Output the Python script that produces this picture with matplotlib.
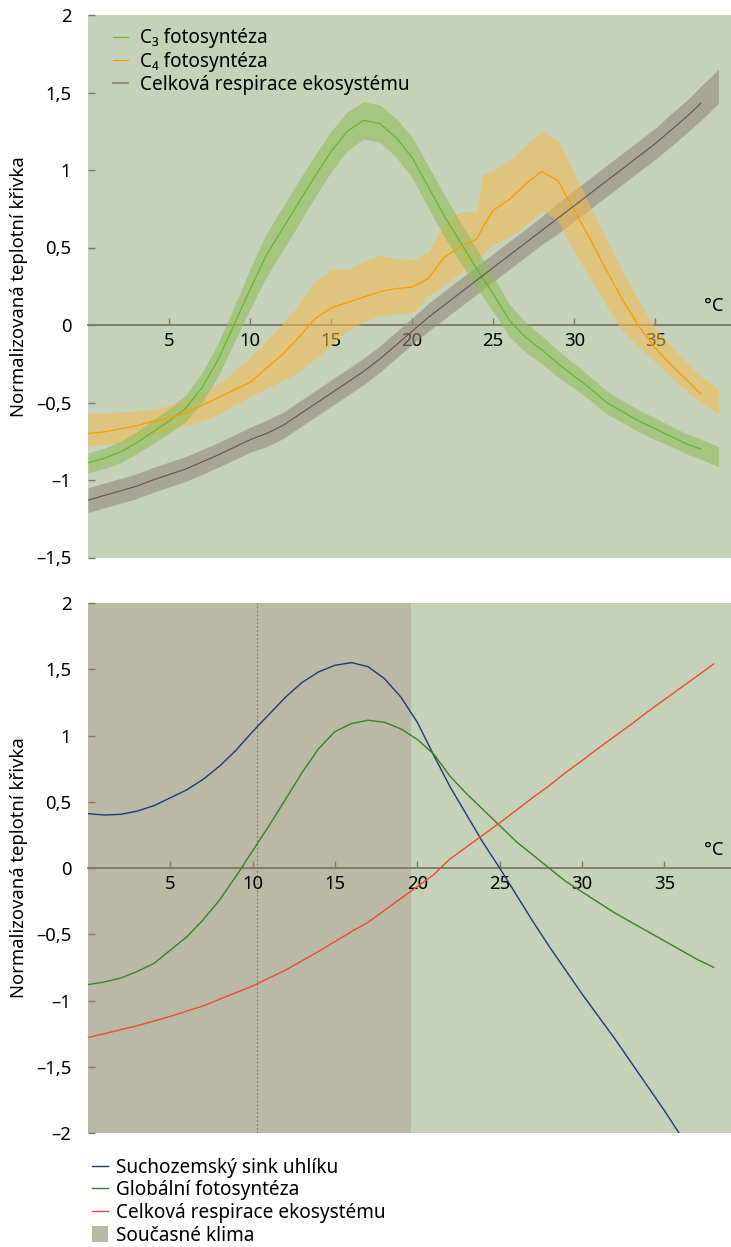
import numpy as np
import matplotlib
matplotlib.use("Agg")
import matplotlib.pyplot as plt
from matplotlib.patches import Patch
from matplotlib.lines import Line2D

plt.rcParams['font.family'] = ['Noto Sans', 'DejaVu Sans']

# =========================
# Data
# =========================

# top panel: common grid, last point = end of the uncertainty band
x_top = list(range(0, 38)) + [37.8, 38.9]

c3_mid = [-0.89, -0.86, -0.82, -0.76, -0.69, -0.62, -0.54, -0.41, -0.23, 0.0,
          0.23, 0.45, 0.62, 0.79, 0.96, 1.12, 1.25, 1.32, 1.30, 1.21,
          1.08, 0.89, 0.70, 0.53, 0.36, 0.20, 0.03, -0.08, -0.16, -0.25,
          -0.33, -0.41, -0.50, -0.56, -0.62, -0.67, -0.72, -0.77, -0.80, -0.85]
c3_hw = [0.065, 0.065, 0.07, 0.07, 0.075, 0.08, 0.085, 0.095, 0.105, 0.115,
         0.13, 0.14, 0.14, 0.14, 0.135, 0.13, 0.125, 0.12, 0.12, 0.125,
         0.13, 0.135, 0.135, 0.13, 0.125, 0.115, 0.105, 0.095, 0.09, 0.085,
         0.08, 0.075, 0.075, 0.07, 0.07, 0.07, 0.065, 0.065, 0.065, 0.065]

resp_mid = [-1.13, -1.10, -1.07, -1.04, -1.00, -0.965, -0.93, -0.885, -0.84, -0.79,
            -0.74, -0.70, -0.65, -0.58, -0.51, -0.44, -0.37, -0.30, -0.22, -0.13,
            -0.04, 0.05, 0.13, 0.21, 0.29, 0.37, 0.45, 0.53, 0.61, 0.69,
            0.77, 0.85, 0.93, 1.01, 1.09, 1.17, 1.26, 1.35, 1.43, 1.54]
resp_hw = [0.08] * 11 + [0.085] * 10 + [0.09] * 8 + [0.10] * 7 + [0.105, 0.105, 0.11, 0.11]

x_c4 = list(range(0, 25)) + [24.3] + list(range(25, 38)) + [37.8, 38.9]
c4_mid = [-0.70, -0.69, -0.67, -0.65, -0.62, -0.60, -0.57, -0.52, -0.47, -0.42,
          -0.37, -0.28, -0.19, -0.08, 0.04, 0.11, 0.145, 0.18, 0.215, 0.235,
          0.245, 0.30, 0.44, 0.505, 0.555, 0.62,
          0.74, 0.81, 0.91, 0.99, 0.93, 0.74, 0.55, 0.35, 0.16, -0.01,
          -0.15, -0.26, -0.36, -0.445, -0.50]
c4_hi = [-0.57, -0.565, -0.56, -0.555, -0.545, -0.52, -0.49, -0.45, -0.38, -0.30,
         -0.21, -0.10, 0.01, 0.13, 0.28, 0.36, 0.355, 0.41, 0.45, 0.43,
         0.42, 0.47, 0.67, 0.73, 0.73, 0.97,
         1.00, 1.06, 1.16, 1.25, 1.19, 0.98, 0.76, 0.55, 0.34, 0.15,
         -0.02, -0.14, -0.25, -0.33, -0.41]
c4_lo = [-0.78, -0.77, -0.76, -0.74, -0.71, -0.68, -0.65, -0.62, -0.58, -0.52,
         -0.46, -0.41, -0.36, -0.30, -0.22, -0.13, -0.04, 0.02, 0.06, 0.07,
         0.08, 0.19, 0.26, 0.34, 0.42, 0.45,
         0.52, 0.57, 0.64, 0.74, 0.67, 0.47, 0.30, 0.12, -0.04, -0.14,
         -0.24, -0.34, -0.43, -0.50, -0.57]

# bottom panel
x_bot = list(range(0, 39))
sink = [0.41, 0.40, 0.405, 0.43, 0.47, 0.53, 0.59, 0.67, 0.77, 0.89,
        1.03, 1.16, 1.29, 1.40, 1.48, 1.53, 1.55, 1.52, 1.43, 1.29,
        1.10, 0.85, 0.61, 0.40, 0.19, 0.0, -0.20, -0.40, -0.59, -0.77,
        -0.95, -1.12, -1.29, -1.47, -1.65, -1.83, -2.02]
photo = [-0.88, -0.86, -0.83, -0.78, -0.72, -0.62, -0.52, -0.39, -0.24, -0.06,
         0.13, 0.32, 0.52, 0.72, 0.90, 1.03, 1.09, 1.115, 1.10, 1.05,
         0.97, 0.86, 0.69, 0.56, 0.44, 0.32, 0.20, 0.10, 0.0, -0.10,
         -0.18, -0.26, -0.34, -0.41, -0.48, -0.55, -0.62, -0.69, -0.75]
resp_bot = [-1.28, -1.25, -1.22, -1.19, -1.155, -1.12, -1.08, -1.04, -0.99, -0.94,
            -0.89, -0.83, -0.77, -0.70, -0.63, -0.555, -0.48, -0.41, -0.32, -0.23,
            -0.14, -0.05, 0.07, 0.16, 0.25, 0.34, 0.435, 0.53, 0.62, 0.72,
            0.81, 0.905, 0.995, 1.085, 1.18, 1.27, 1.36, 1.45, 1.54]
climate_end = 19.6
climate_mean = 10.25

xticks = [5, 10, 15, 20, 25, 30, 35]
yticks_top = [2, 1.5, 1, 0.5, 0, -0.5, -1, -1.5]
yticks_bot = [2, 1.5, 1, 0.5, 0, -0.5, -1, -1.5, -2]

# =========================
# Style
# =========================
bg = '#c5d1b9'
climate_col = '#b9b9a6'
axis_col = '#7f7767'
fs = 13.3
leg_fs = 13.7


def fmt(v):
    s = f"{abs(v):g}".replace('.', ',')
    return ('\u2013' + s) if v < 0 else s


def style_axes(ax, yt, ylim, xmax):
    ax.set_facecolor(bg)
    ax.set_xlim(0, xmax)
    ax.set_ylim(*ylim)
    for s in ['top', 'right', 'left']:
        ax.spines[s].set_visible(False)
    ax.spines['bottom'].set_position(('data', 0))
    ax.spines['bottom'].set_color(axis_col)
    ax.spines['bottom'].set_linewidth(1.3)
    ax.spines['bottom'].set_zorder(1)
    ax.set_xticks(xticks)
    ax.set_xticklabels([str(t) for t in xticks])
    ax.set_yticks(yt)
    ax.set_yticklabels([fmt(v) for v in yt])
    ax.tick_params(axis='x', direction='in', length=5, width=1, color=axis_col,
                   labelsize=fs, pad=5)
    ax.tick_params(axis='y', direction='in', length=5, width=1, color=axis_col,
                   labelsize=fs, pad=12)
    ax.set_ylabel('Normalizovaná teplotní křivka', fontsize=fs, labelpad=6)


fig = plt.figure(figsize=(7.31, 12.47), dpi=100)

# =========================
# Top panel
# =========================
ax1 = fig.add_axes([88 / 731, 1 - 557.5 / 1247, 643 / 731, 542.5 / 1247])
style_axes(ax1, yticks_top, (-1.5, 2), 39.67)

xt = np.array(x_top)
c3m, c3h = np.array(c3_mid), np.array(c3_hw)
rm, rh = np.array(resp_mid), np.array(resp_hw)

ax1.fill_between(xt, rm - rh, rm + rh, color='#948a7c', alpha=0.6, lw=0, zorder=2)
ax1.fill_between(x_c4, c4_lo, c4_hi, color='#f5bb4f', alpha=0.55, lw=0, zorder=2)
ax1.fill_between(xt, c3m - c3h, c3m + c3h, color='#91bd5b', alpha=0.6, lw=0, zorder=2)

l_c3, = ax1.plot(xt[:-1], c3m[:-1], color='#6cb52d', lw=0.9, zorder=3)
l_c4, = ax1.plot(x_c4[:-1], c4_mid[:-1], color='#f5a000', lw=0.9, zorder=3)
l_r, = ax1.plot(xt[:-1], rm[:-1], color='#5d5550', lw=0.8, zorder=3)

ax1.text(38.6, 0.065, '°C', fontsize=fs, ha='center', va='bottom')

leg1 = ax1.legend([l_c3, l_c4, Line2D([], [], color='#8a8070', lw=1.2)],
                  ['C\u2083 fotosyntéza', 'C\u2084 fotosyntéza', 'Celková respirace ekosystému'],
                  loc='upper left', bbox_to_anchor=(0.018, 1.0), frameon=False,
                  fontsize=leg_fs, handlelength=0.8, handletextpad=0.65,
                  labelspacing=0.17, borderaxespad=0.3)

# =========================
# Bottom panel
# =========================
ax2 = fig.add_axes([88 / 731, 1 - 1133 / 1247, 643 / 731, 530 / 1247])
style_axes(ax2, yticks_bot, (-2, 2), 39.05)

ax2.axvspan(0, climate_end, color=climate_col, lw=0, zorder=0.5)
ax2.axvline(climate_mean, color='#8a6f60', lw=0.8, ls=(0, (1.5, 2)), zorder=1.5)

xb = np.array(x_bot)
l_s, = ax2.plot(xb[:len(sink)], sink, color='#1f3b73', lw=1.0, zorder=3)
l_p, = ax2.plot(xb, photo, color='#3c7f2a', lw=1.0, zorder=3)
l_rb, = ax2.plot(xb, resp_bot, color='#f04a30', lw=1.0, zorder=3)

ax2.text(38.0, 0.068, '°C', fontsize=fs, ha='center', va='bottom')

fig.legend([l_s, l_p, l_rb, Patch(facecolor=climate_col, edgecolor='none')],
           ['Suchozemský sink uhlíku', 'Globální fotosyntéza',
            'Celková respirace ekosystému', 'Současné klima'],
           loc='upper left', bbox_to_anchor=(84 / 731, 1 - 1150 / 1247),
           frameon=False, fontsize=leg_fs, handlelength=0.85, handleheight=0.85,
           handletextpad=0.45, labelspacing=0.14, borderaxespad=0)

fig.savefig('out.png', dpi=100)
